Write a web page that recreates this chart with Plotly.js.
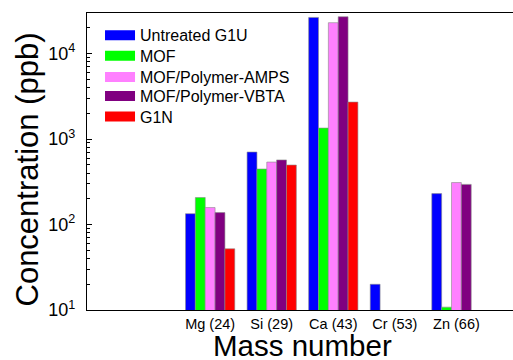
<!DOCTYPE html>
<html>
<head>
<meta charset="utf-8">
<script src="https://cdn.plot.ly/plotly-3.0.1.min.js"></script>
<style>
html,body{margin:0;padding:0;overflow:hidden;background:#fff;}
#chart{width:522px;height:360px;}
</style>
</head>
<body>
<div id="chart"></div>
<script>
// categories (x position index and label)
const categoryPos = [2, 3, 4, 5, 6];
const categoryLabels = ["Mg (24)", "Si (29)", "Ca (43)", "Cr (53)", "Zn (66)"];

// series values (ppb); null = no bar
const seriesNames = ["Untreated G1U", "MOF", "MOF/Polymer-AMPS", "MOF/Polymer-VBTA", "G1N"];
const untreatedG1U = [134, 705, 26500, 20, 230];
const mof = [207, 446, 1345, null, 10.8];
const mofAMPS = [158, 538, 23000, null, 310];
const mofVBTA = [138, 570, 27000, null, 295];
const g1n = [52, 497, 2710, null, null];

const seriesColors = ["#0000FF", "#00FF00", "#FF80FF", "#800080", "#FF0000"];

// y tick labels
const yTickVals = [10, 100, 1000, 10000];
const yTickText = ["10<sup>1</sup>", "10<sup>2</sup>", "10<sup>3</sup>", "10<sup>4</sup>"];

const seriesValues = [untreatedG1U, mof, mofAMPS, mofVBTA, g1n];
const font = "Arial, 'Liberation Sans', sans-serif";
const legendIds = ["legend", "legend2", "legend3", "legend4", "legend5"];
const legendY = [0.925, 0.856, 0.784, 0.72, 0.651];

const traces = [];
seriesValues.forEach((vals, i) => {
  traces.push({
    type: "bar",
    x: categoryPos,
    y: vals,
    name: seriesNames[i],
    showlegend: false,
    marker: {color: seriesColors[i], line: {color: "#8a8a8a", width: 0.6}}
  });
});
// legend entries (wide rectangles), one legend each for exact placement
seriesValues.forEach((vals, i) => {
  traces.push({
    type: "scatter",
    mode: "lines",
    x: [null],
    y: [null],
    name: seriesNames[i],
    legend: legendIds[i],
    showlegend: true,
    line: {color: seriesColors[i], width: 11},
    hoverinfo: "skip"
  });
});

const layout = {
  width: 522,
  height: 360,
  margin: {l: 87, r: 4, t: 13, b: 50},
  paper_bgcolor: "#fff",
  plot_bgcolor: "#fff",
  font: {family: font, color: "#000"},
  barmode: "group",
  bargap: 0.2,
  bargroupgap: 0,
  showlegend: true,
  xaxis: {
    range: [0, 7],
    tickvals: categoryPos,
    ticktext: categoryLabels,
    tickfont: {family: font, size: 14.5},
    ticks: "",
    showline: true, linecolor: "#000", linewidth: 1.2, mirror: true,
    showgrid: false, zeroline: false
  },
  yaxis: {
    type: "log",
    range: [1, 4.475],
    tickvals: yTickVals,
    ticktext: yTickText,
    tickfont: {family: font, size: 18},
    ticklabelstandoff: 7,
    ticks: "inside", ticklen: 5, tickwidth: 1, tickcolor: "#000",
    minor: {ticks: "inside", ticklen: 2.5, tickwidth: 1, tickcolor: "#000", dtick: "D1", showgrid: false},
    showline: true, linecolor: "#000", linewidth: 1.2, mirror: "ticks",
    showgrid: false, zeroline: false
  },
  annotations: [{
    text: "Concentration (ppb)",
    xref: "paper", yref: "paper",
    x: (27.5 - 87) / 431, y: (310 - 170) / 297,
    xanchor: "center", yanchor: "middle",
    textangle: -90, showarrow: false,
    font: {family: font, size: 31, color: "#000"}
  }, {
    text: "Mass number",
    xref: "paper", yref: "paper",
    x: 0.5, y: (310 - 345.5) / 297,
    xanchor: "center", yanchor: "middle",
    showarrow: false,
    font: {family: font, size: 29.5, color: "#000"}
  }]
};
legendIds.forEach((id, i) => {
  layout[id] = {
    x: 0.0302, y: legendY[i], xanchor: "left", yanchor: "middle",
    bgcolor: "rgba(0,0,0,0)",
    font: {family: font, size: 16, color: "#000"},
    itemwidth: 30
  };
});

Plotly.newPlot("chart", traces, layout, {displayModeBar: false, staticPlot: true});
</script>
</body>
</html>
